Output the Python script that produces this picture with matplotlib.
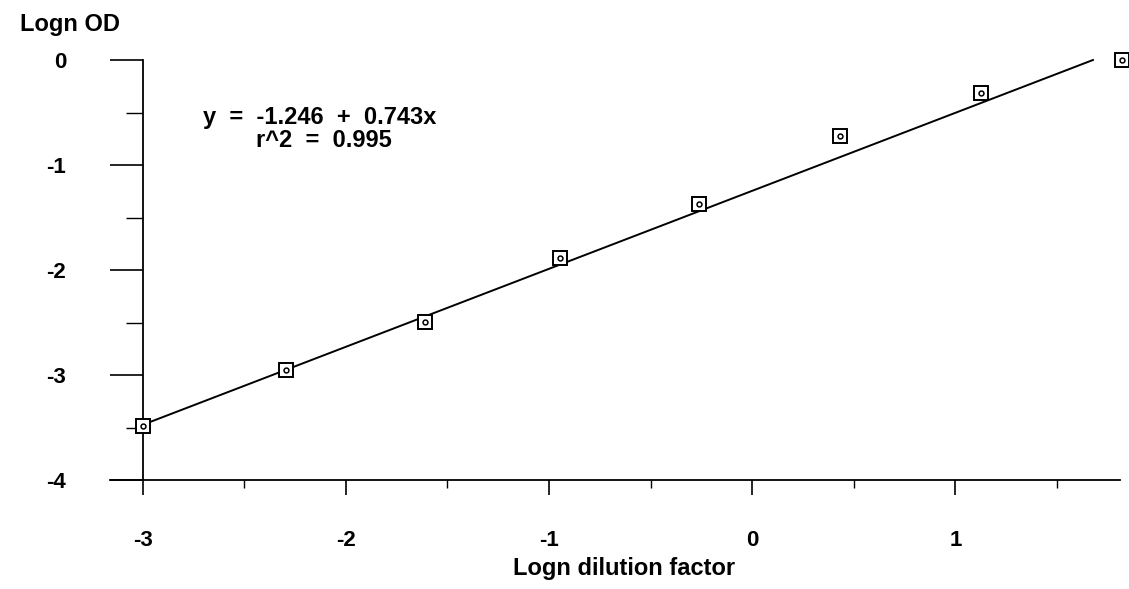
import matplotlib.pyplot as plt
import numpy as np

plt.rcParams['font.family'] = ['Liberation Sans', 'DejaVu Sans']
plt.rcParams['font.weight'] = 'bold'

# data
logn_dilution = [-3.0, -2.296, -1.611, -0.946, -0.261, 0.433, 1.128, 1.818]
logn_od = [-3.486, -2.952, -2.495, -1.883, -1.371, -0.724, -0.311, 0.0]
intercept = -1.246
slope = 0.743
r2 = 0.995
xticks = [-3, -2, -1, 0, 1]
yticks = [0, -1, -2, -3, -4]

fig = plt.figure(figsize=(11.29, 5.89), dpi=100)
ax = fig.add_axes([110/1129, 1-480/589, (1120-110)/1129, 420/589])

# fit line, ends where it reaches y=0
x_end = -intercept/slope
xl = np.array([logn_dilution[0], x_end])
ax.plot(xl, intercept + slope*xl, color='black', lw=1.4, clip_on=False)

ax.plot(logn_dilution, logn_od, ls='none', marker='s', ms=9.5, mfc='white',
        mec='black', mew=1.4, clip_on=False, zorder=3)
ax.plot(logn_dilution, logn_od, ls='none', marker='o', ms=3.5, mfc='white',
        mec='black', mew=1.1, clip_on=False, zorder=4)

ax.set_xlim(-3.16, 1.81)
ax.set_ylim(-4, 0)

ax.spines['top'].set_visible(False)
ax.spines['right'].set_visible(False)
ax.spines['left'].set_position(('data', -3))
ax.spines['left'].set_linewidth(1.3)
ax.spines['bottom'].set_linewidth(1.3)

ax.set_xticks(xticks)
ax.set_xticks(np.arange(-2.5, 1.6, 0.5), minor=True)
ax.set_yticks(yticks)
ax.set_yticks([-0.5, -1.5, -2.5, -3.5], minor=True)
ax.set_xticklabels([str(t) for t in xticks])
ax.set_yticklabels([str(t) for t in yticks])

ax.tick_params(axis='x', which='major', direction='out', length=11, width=1.2,
               pad=25, labelsize=16)
ax.tick_params(axis='x', which='minor', direction='out', length=6, width=1.0)
ax.tick_params(axis='y', which='major', direction='out', length=24, width=1.2,
               pad=31, labelsize=16)
ax.tick_params(axis='y', which='minor', direction='out', length=12, width=1.0)

fig.text(624/1129, 1-568/589, 'Logn dilution factor', fontsize=17,
         fontweight='bold', ha='center', va='center')
fig.text(70/1129, 1-25/589, 'Logn OD', fontsize=17, fontweight='bold',
         ha='center', va='center')

ax.text(-2.13, -0.543, 'y  =  -1.246  +  0.743x', fontsize=17, fontweight='bold',
        ha='center', va='center')
ax.text(-2.11, -0.762, 'r^2  =  0.995', fontsize=17, fontweight='bold',
        ha='center', va='center')

fig.savefig('out.png', dpi=100)
